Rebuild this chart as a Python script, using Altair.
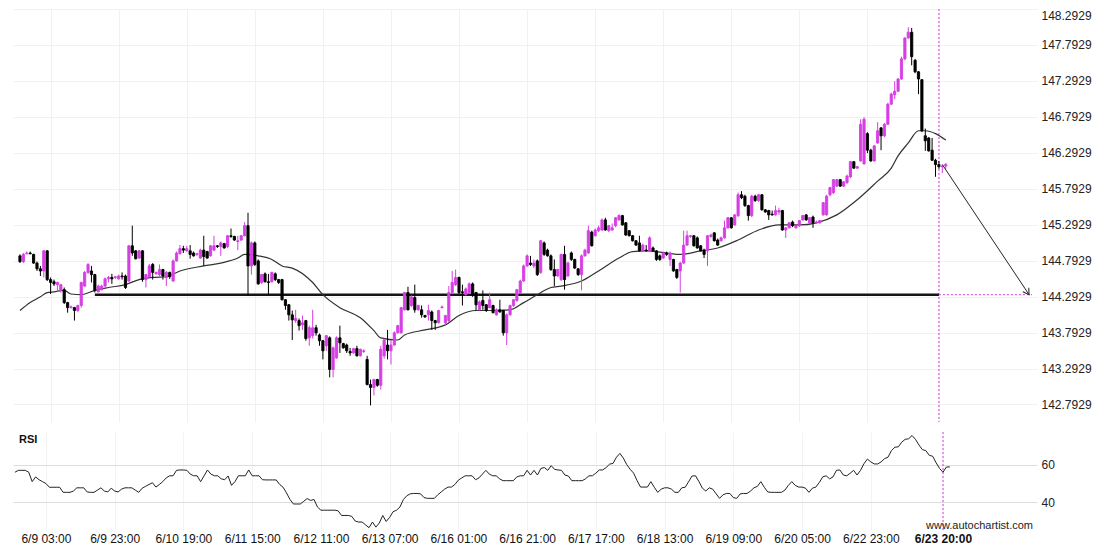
import altair as alt
import pandas as pd

# ---------------- data (hourly candles, index = bar number) ----------------
bar_open = [
144.86, 144.78, 144.89, 144.90, 144.88, 144.76, 144.68, 144.65, 144.93, 144.53,
144.50, 144.46, 144.38, 144.39, 144.21, 144.14, 144.14, 144.10, 144.17, 144.44,
144.63, 144.65, 144.60, 144.36, 144.39, 144.44, 144.54, 144.56, 144.56, 144.54,
144.58, 144.58, 144.51, 145.00, 144.93, 144.83, 144.93, 144.53, 144.57, 144.74,
144.61, 144.60, 144.67, 144.56, 144.63, 144.51, 144.79, 144.89, 144.96, 144.93,
144.93, 144.90, 144.88, 144.83, 144.94, 144.92, 144.86, 144.94, 145.00, 144.99,
145.03, 144.99, 145.14, 145.13, 145.06, 145.08, 145.14, 145.28, 144.72, 145.04,
144.79, 144.49, 144.61, 144.50, 144.50, 144.61, 144.53, 144.53, 144.25, 144.18,
144.04, 143.96, 143.96, 143.90, 143.96, 143.72, 143.75, 143.86, 143.76, 143.68,
143.61, 143.72, 143.28, 143.44, 143.72, 143.64, 143.62, 143.53, 143.51, 143.57,
143.47, 143.53, 143.42, 143.07, 143.03, 143.14, 143.06, 143.47, 143.62, 143.54,
143.62, 143.79, 143.79, 144.11, 144.35, 144.17, 144.28, 144.11, 144.11, 144.03,
144.04, 144.08, 143.96, 143.93, 144.14, 143.93, 143.96, 144.35, 144.46, 144.56,
144.36, 144.32, 144.35, 144.47, 144.35, 144.11, 144.24, 144.18, 144.14, 144.17,
144.04, 144.11, 144.10, 143.79, 144.04, 144.17, 144.24, 144.35, 144.51, 144.72,
144.76, 144.72, 144.79, 144.63, 145.04, 144.94, 144.86, 144.67, 144.58, 144.53,
144.88, 144.58, 144.90, 144.81, 144.68, 144.60, 144.86, 144.90, 145.19, 145.14,
145.21, 145.22, 145.36, 145.21, 145.22, 145.28, 145.36, 145.42, 145.32, 145.21,
145.14, 145.07, 145.04, 144.93, 144.94, 144.93, 144.97, 144.93, 144.86, 144.83,
144.90, 144.81, 144.81, 144.67, 144.65, 144.76, 145.01, 145.13, 145.14, 145.11,
145.00, 144.94, 144.93, 145.13, 145.18, 145.08, 145.07, 145.11, 145.25, 145.39,
145.29, 145.42, 145.71, 145.69, 145.56, 145.42, 145.69, 145.63, 145.71, 145.50,
145.49, 145.44, 145.43, 145.47, 145.49, 145.22, 145.25, 145.33, 145.25, 145.28,
145.36, 145.43, 145.32, 145.40, 145.32, 145.32, 145.43, 145.43, 145.71, 145.74,
145.83, 145.92, 145.83, 145.88, 145.96, 146.17, 146.08, 146.18, 146.14, 146.56,
146.33, 146.18, 146.43, 146.64, 146.53, 146.69, 146.97, 147.10, 147.15, 147.32,
147.60, 147.89, 147.97, 147.58, 147.42, 147.31, 146.53, 146.50, 146.33, 146.19,
146.13, 146.10, 146.11,
]
bar_high = [
144.88, 144.90, 144.92, 144.92, 144.89, 144.78, 144.72, 144.94, 144.94, 144.56,
144.53, 144.50, 144.47, 144.42, 144.22, 144.17, 144.15, 144.18, 144.50, 144.65,
144.76, 144.72, 144.61, 144.46, 144.46, 144.56, 144.58, 144.61, 144.58, 144.60,
144.63, 144.60, 145.01, 145.28, 144.94, 144.94, 144.94, 144.61, 144.75, 144.76,
144.64, 144.74, 144.68, 144.65, 144.64, 144.81, 144.92, 145.01, 145.00, 145.00,
145.01, 144.92, 144.90, 144.96, 145.14, 144.93, 145.01, 145.14, 145.01, 145.06,
145.04, 145.15, 145.24, 145.14, 145.14, 145.15, 145.33, 145.46, 145.06, 145.06,
144.81, 144.61, 144.63, 144.61, 144.64, 144.63, 144.54, 144.54, 144.26, 144.19,
144.10, 144.11, 143.99, 144.03, 143.97, 143.89, 144.11, 143.90, 143.78, 143.69,
143.76, 143.74, 143.60, 143.74, 143.89, 143.65, 143.64, 143.58, 143.58, 143.61,
143.57, 143.56, 143.47, 143.14, 143.15, 143.15, 143.61, 143.71, 143.83, 143.69,
143.81, 143.90, 144.15, 144.36, 144.43, 144.31, 144.46, 144.18, 144.17, 144.04,
144.18, 144.10, 143.97, 144.11, 144.17, 144.04, 144.44, 144.65, 144.67, 144.57,
144.46, 144.42, 144.49, 144.49, 144.36, 144.24, 144.38, 144.19, 144.35, 144.18,
144.13, 144.25, 144.11, 144.06, 144.18, 144.26, 144.40, 144.53, 144.74, 144.88,
144.86, 144.81, 144.81, 145.08, 145.06, 144.96, 144.88, 144.81, 144.68, 144.89,
145.00, 144.78, 144.92, 144.82, 144.69, 144.88, 144.96, 145.28, 145.21, 145.24,
145.28, 145.38, 145.39, 145.29, 145.31, 145.40, 145.44, 145.43, 145.33, 145.22,
145.15, 145.08, 145.14, 145.03, 145.01, 145.13, 144.99, 144.94, 144.88, 144.92,
144.92, 144.92, 144.82, 144.68, 144.78, 145.21, 145.21, 145.15, 145.15, 145.13,
145.01, 144.96, 145.15, 145.17, 145.19, 145.10, 145.13, 145.35, 145.40, 145.40,
145.44, 145.74, 145.76, 145.71, 145.57, 145.71, 145.71, 145.72, 145.72, 145.51,
145.50, 145.49, 145.56, 145.53, 145.50, 145.26, 145.33, 145.35, 145.29, 145.36,
145.43, 145.44, 145.40, 145.42, 145.35, 145.36, 145.61, 145.71, 145.82, 145.93,
145.93, 145.93, 145.90, 145.99, 146.18, 146.18, 146.11, 146.76, 146.79, 146.58,
146.35, 146.40, 146.72, 146.65, 146.71, 146.99, 147.13, 147.29, 147.33, 147.63,
147.90, 148.04, 148.03, 147.60, 147.43, 147.32, 146.63, 146.51, 146.50, 146.21,
146.18, 146.13, 146.15,
]
bar_low = [
144.76, 144.76, 144.88, 144.88, 144.75, 144.65, 144.58, 144.56, 144.51, 144.33,
144.44, 144.36, 144.35, 144.19, 144.07, 144.13, 143.96, 144.08, 144.14, 144.43,
144.61, 144.49, 144.35, 144.35, 144.38, 144.43, 144.49, 144.47, 144.54, 144.53,
144.53, 144.40, 144.50, 144.86, 144.81, 144.82, 144.50, 144.42, 144.56, 144.53,
144.60, 144.58, 144.53, 144.44, 144.54, 144.50, 144.78, 144.88, 144.90, 144.92,
144.82, 144.85, 144.86, 144.82, 144.72, 144.82, 144.85, 144.93, 144.97, 144.86,
144.96, 144.97, 145.11, 145.07, 144.94, 145.07, 145.13, 144.31, 144.60, 144.72,
144.46, 144.47, 144.49, 144.32, 144.49, 144.51, 144.47, 144.24, 144.11, 143.96,
143.69, 143.93, 143.82, 143.83, 143.68, 143.61, 143.71, 143.75, 143.61, 143.42,
143.54, 143.17, 143.17, 143.43, 143.51, 143.57, 143.51, 143.47, 143.50, 143.46,
143.46, 143.51, 143.06, 142.78, 142.92, 143.04, 143.00, 143.43, 143.42, 143.35,
143.61, 143.78, 143.78, 144.10, 144.10, 144.15, 144.07, 144.10, 144.00, 144.00,
143.96, 143.83, 143.83, 143.92, 144.13, 143.90, 143.94, 144.33, 144.44, 144.33,
144.17, 144.31, 144.33, 144.29, 144.10, 144.10, 144.11, 144.08, 144.13, 144.06,
144.03, 144.07, 143.75, 143.62, 144.03, 144.15, 144.22, 144.33, 144.50, 144.71,
144.72, 144.69, 144.58, 144.61, 144.86, 144.85, 144.65, 144.44, 144.57, 144.51,
144.39, 144.57, 144.79, 144.68, 144.58, 144.38, 144.85, 144.89, 144.99, 145.13,
145.19, 145.21, 145.21, 145.19, 145.21, 145.26, 145.35, 145.28, 145.14, 145.13,
145.06, 145.00, 144.92, 144.92, 144.92, 144.92, 144.92, 144.79, 144.79, 144.82,
144.86, 144.72, 144.64, 144.54, 144.35, 144.75, 145.00, 145.11, 144.99, 144.96,
144.92, 144.83, 144.72, 145.11, 145.06, 145.00, 145.06, 145.10, 145.24, 145.24,
145.28, 145.40, 145.65, 145.54, 145.35, 145.40, 145.61, 145.61, 145.49, 145.46,
145.36, 145.42, 145.42, 145.43, 145.21, 145.11, 145.24, 145.26, 145.24, 145.26,
145.35, 145.35, 145.31, 145.25, 145.31, 145.31, 145.42, 145.42, 145.69, 145.72,
145.82, 145.82, 145.82, 145.86, 145.94, 146.07, 146.07, 146.17, 146.13, 146.29,
146.17, 146.17, 146.42, 146.33, 146.51, 146.68, 146.96, 147.04, 147.14, 147.31,
147.58, 147.88, 147.51, 147.40, 147.11, 146.58, 146.32, 146.31, 146.18, 145.96,
146.07, 146.01, 146.07,
]
bar_close = [
144.78, 144.88, 144.90, 144.89, 144.76, 144.68, 144.65, 144.93, 144.53, 144.49,
144.47, 144.49, 144.46, 144.21, 144.14, 144.15, 144.10, 144.17, 144.49, 144.63,
144.74, 144.60, 144.38, 144.44, 144.44, 144.54, 144.56, 144.54, 144.57, 144.58,
144.57, 144.42, 145.00, 144.90, 144.82, 144.93, 144.53, 144.60, 144.72, 144.63,
144.63, 144.67, 144.58, 144.63, 144.57, 144.79, 144.90, 144.96, 144.94, 144.96,
144.88, 144.86, 144.89, 144.94, 144.85, 144.83, 145.00, 145.00, 144.99, 145.04,
144.97, 145.14, 145.13, 145.08, 145.07, 145.14, 145.28, 144.72, 145.04, 144.74,
144.47, 144.60, 144.50, 144.49, 144.63, 144.53, 144.49, 144.25, 144.17, 144.04,
143.97, 143.99, 143.89, 143.93, 143.71, 143.86, 143.86, 143.79, 143.68, 143.54,
143.75, 143.28, 143.58, 143.72, 143.65, 143.58, 143.54, 143.51, 143.57, 143.47,
143.56, 143.54, 143.07, 143.03, 143.14, 143.06, 143.56, 143.69, 143.54, 143.62,
143.79, 143.89, 144.14, 144.35, 144.11, 144.29, 144.11, 144.17, 144.04, 144.01,
144.10, 143.96, 143.93, 144.10, 144.15, 144.03, 144.35, 144.49, 144.56, 144.35,
144.35, 144.40, 144.47, 144.31, 144.18, 144.22, 144.17, 144.10, 144.25, 144.07,
144.11, 144.08, 143.79, 144.04, 144.17, 144.25, 144.39, 144.51, 144.72, 144.86,
144.74, 144.76, 144.60, 145.07, 144.88, 144.86, 144.67, 144.58, 144.67, 144.88,
144.53, 144.76, 144.81, 144.69, 144.60, 144.86, 144.94, 145.21, 145.00, 145.22,
145.25, 145.36, 145.22, 145.28, 145.25, 145.39, 145.42, 145.29, 145.15, 145.14,
145.07, 145.01, 144.93, 145.01, 144.93, 145.11, 144.93, 144.81, 144.81, 144.90,
144.88, 144.90, 144.65, 144.56, 144.76, 145.01, 145.14, 145.14, 145.00, 144.97,
144.93, 144.88, 145.14, 145.15, 145.07, 145.01, 145.11, 145.25, 145.39, 145.25,
145.43, 145.71, 145.67, 145.56, 145.42, 145.69, 145.63, 145.71, 145.50, 145.47,
145.43, 145.43, 145.49, 145.49, 145.22, 145.25, 145.32, 145.28, 145.28, 145.35,
145.42, 145.36, 145.39, 145.32, 145.33, 145.35, 145.60, 145.69, 145.81, 145.92,
145.92, 145.83, 145.89, 145.97, 146.17, 146.08, 146.10, 146.69, 146.76, 146.33,
146.18, 146.39, 146.60, 146.53, 146.69, 146.97, 147.11, 147.15, 147.32, 147.60,
147.89, 147.97, 147.63, 147.42, 147.32, 146.60, 146.46, 146.32, 146.19, 146.13,
146.10, 146.11, 146.13,
]

# moving average (read at selected bars)
ma_index = [0, 3, 6, 8, 10, 13, 15, 18, 22, 26, 31, 35, 39, 43, 47, 54, 59, 64, 66, 70,
            74, 77, 80, 86, 89, 94, 100, 104, 106, 111, 113, 119, 125, 129, 134, 138, 144, 148, 152, 156,
            159, 165, 170, 176, 180, 184, 190, 194, 200, 205, 211, 217, 223, 229, 234, 240, 246, 252, 256, 258,
            261, 264, 266, 269, 272]
ma_value = [144.10, 144.21, 144.29, 144.35, 144.36, 144.38, 144.33, 144.32, 144.38, 144.42,
            144.46, 144.53, 144.56, 144.57, 144.65, 144.72, 144.76, 144.83, 144.88, 144.86,
            144.81, 144.72, 144.69, 144.49, 144.32, 144.14, 144.00, 143.82, 143.72, 143.69,
            143.76, 143.83, 143.90, 144.03, 144.10, 144.10, 144.11, 144.21, 144.32, 144.42,
            144.44, 144.51, 144.65, 144.83, 144.92, 144.93, 144.90, 144.88, 144.93, 144.97,
            145.08, 145.22, 145.29, 145.29, 145.32, 145.43, 145.64, 145.90, 146.08, 146.25,
            146.43, 146.60, 146.60, 146.56, 146.47]

rsi_value = [
56, 57, 57, 57, 56, 51, 53.5, 52, 51, 50,
48, 48, 48, 48, 45.3, 45.3, 45.3, 46, 47.7, 47.7,
47.7, 45.5, 45.3, 45.3, 46.5, 47.7, 46, 45.5, 47.5, 46,
45.5, 47, 47.7, 47.7, 47.7, 46.5, 45.3, 47.5, 48.5, 49.5,
50.4, 48.1, 49.5, 51, 53, 54.1, 54.1, 57, 57.2, 57.2,
57, 55, 54.1, 54.1, 51, 54, 57.2, 55, 54.1, 54.1,
52.5, 52, 54, 49, 51, 54.1, 54.1, 54.1, 57.2, 54.1,
54.1, 54.1, 52, 51.9, 51.9, 51.9, 51.9, 49.5, 48, 45,
41.5, 39.1, 39.1, 39.1, 40.5, 42, 41, 41.5, 37.5, 35.8,
35.8, 35.8, 35.8, 35.8, 35.5, 33, 33, 33, 32.5, 30,
29.5, 29.5, 28, 26.5, 29.5, 26.8, 29, 33, 29.8, 32,
35, 35.8, 37.5, 41.5, 43.5, 44.5, 44.7, 44.7, 44.5, 42.5,
42.1, 42.1, 42.1, 44, 45.5, 47, 48.1, 48.1, 49.5, 51.8,
53, 54.1, 54.1, 54.1, 52, 53, 55, 57, 55, 54.1,
54.1, 52.5, 51.5, 51.5, 51.5, 51.5, 53.5, 54.1, 54.1, 57,
54.5, 57, 54.5, 58, 58.5, 57, 59.5, 57.5, 57.2, 57,
54.5, 54, 51.5, 51.5, 51.5, 51.5, 52.5, 54.1, 54.1, 55.5,
57.2, 57.2, 58.5, 60.3, 60.7, 64, 66, 63.5, 60, 57.5,
55.5, 51.5, 48.1, 48.1, 48.1, 51, 48, 45.3, 47, 47.7,
47.7, 47, 45.3, 45.3, 47.7, 48, 51, 54, 54.1, 51,
47.5, 46, 47.7, 47, 44.5, 42.1, 44, 44.7, 44.7, 42.5,
42.1, 44.5, 44.7, 44.7, 46, 47.7, 48.5, 51, 48, 45.5,
45.3, 45.3, 45.3, 45.3, 46.5, 49, 51, 49, 48.1, 48.1,
47.5, 45.3, 47.5, 48.1, 50.5, 53.5, 54.1, 52.5, 53.5, 57,
57.2, 54.5, 54.1, 55.5, 57, 54.5, 57, 60.5, 63, 61.5,
60.4, 60.4, 61.5, 63.2, 64, 67.5, 69.3, 69.5, 72, 73.5,
73.8, 75.5, 73.5, 70.5, 68, 67.5, 65, 64.5, 61, 58,
56, 58.8, 58.8,
]

time_tick_index = [9, 29, 49, 69, 89, 109, 129, 149, 169, 189, 209, 229, 249, 270]
time_tick_label = ["6/9 03:00", "6/9 23:00", "6/10 19:00", "6/11 15:00", "6/12 11:00",
                   "6/13 07:00", "6/16 01:00", "6/16 21:00", "6/17 17:00", "6/18 13:00",
                   "6/19 09:00", "6/20 05:00", "6/22 23:00", "6/23 20:00"]
price_ticks = [142.7929, 143.2929, 143.7929, 144.2929, 144.7929, 145.2929,
               145.7929, 146.2929, 146.7929, 147.2929, 147.7929, 148.2929]
rsi_ticks = [40, 60]

support_level = 144.32
support_from = 22
signal_bar = 270
arrow_index = [271, 296.5]
arrow_price = [146.13, 144.32]

# ---------------- styling ----------------
PINK = "#d63fe3"
X_DOM = [-0.58, 297.35]
Y_DOM = [142.5495, 148.2935]
RSI_DOM = [25.27, 77.39]
W = 1024
FONT = "Liberation Sans"

n = min(len(bar_open), len(bar_high), len(bar_low), len(bar_close))
candles = pd.DataFrame({
    "i": list(range(n)),
    "open": bar_open[:n], "high": bar_high[:n],
    "low": bar_low[:n], "close": bar_close[:n],
})
candles["dir"] = ["up" if c > o else "down" for o, c in zip(candles["open"], candles["close"])]

cscale = alt.Scale(domain=["up", "down"], range=[PINK, "#000000"])
xscale = alt.Scale(domain=X_DOM, nice=False, zero=False)
yscale = alt.Scale(domain=Y_DOM, nice=False, zero=False)

x_axis_main = alt.Axis(values=time_tick_index, labels=False, ticks=False, domain=False,
                       grid=True, gridColor="#f1f1f1", gridWidth=1, title=None)
y_axis_main = alt.Axis(orient="right", values=price_ticks, format=".4f", ticks=False,
                       domain=False, grid=True, gridColor="#f1f1f1", labelPadding=4,
                       labelFontSize=12, labelColor="#222222", labelFont=FONT, title=None,
                       labelOverlap=False,
                       labelOffset={"condition": {"test": "datum.value > 148", "value": 6}, "value": 0})


def xm(field):
    return alt.X(f"{field}:Q", scale=xscale, axis=x_axis_main)


def ym(field):
    return alt.Y(f"{field}:Q", scale=yscale, axis=y_axis_main)


base = alt.Chart(candles)
wicks = base.mark_rule(strokeWidth=1).encode(
    x=xm("i"), y=ym("low"), y2="high",
    color=alt.Color("dir:N", scale=cscale, legend=None),
)
bodies = base.mark_bar(size=2.2, strokeWidth=0.9).encode(
    x=xm("i"), y=ym("open"), y2="close",
    color=alt.Color("dir:N", scale=cscale, legend=None),
    stroke=alt.Stroke("dir:N", scale=cscale, legend=None),
)

ma_df = pd.DataFrame({"i": ma_index, "p": ma_value})
ma_line = alt.Chart(ma_df).mark_line(color="#333333", strokeWidth=1.2, interpolate="monotone").encode(
    x=xm("i"), y=ym("p"))

support_df = pd.DataFrame({"i": [support_from], "i2": [signal_bar], "p": [support_level]})
support = alt.Chart(support_df).mark_rule(color="#151515", strokeWidth=2.6).encode(
    x=xm("i"), x2="i2", y=ym("p"))

proj_df = pd.DataFrame({"i": [signal_bar], "i2": [X_DOM[1]], "p": [support_level]})
proj_level = alt.Chart(proj_df).mark_rule(color=PINK, strokeWidth=1, strokeDash=[2, 2]).encode(
    x=xm("i"), x2="i2", y=ym("p"))

sig_df = pd.DataFrame({"i": [signal_bar]})
sig_main = alt.Chart(sig_df).mark_rule(color=PINK, strokeWidth=1, strokeDash=[2, 2]).encode(x=xm("i"))

arrow_df = pd.DataFrame({"i": arrow_index, "p": arrow_price})
arrow_line = alt.Chart(arrow_df).mark_line(color="#222222", strokeWidth=1).encode(x=xm("i"), y=ym("p"))
arrow_head = alt.Chart(arrow_df.tail(1)).mark_point(
    shape="M-0.6,-1L0,0L0.6,-1", size=140, angle=326, filled=False,
    stroke="#222222", strokeWidth=1, opacity=1,
).encode(x=xm("i"), y=ym("p"))

main = alt.layer(sig_main, support, proj_level, ma_line, wicks, bodies, arrow_line, arrow_head).properties(
    width=W, height=413)

# ---------------- RSI panel ----------------
label_expr = ""
for k, v in zip(time_tick_index, time_tick_label):
    label_expr += f"datum.value == {k} ? '{v}' : "
label_expr += "''"

x_axis_rsi = alt.Axis(values=time_tick_index, labelExpr=label_expr, ticks=False, domain=False,
                      grid=True, gridColor="#f3f3f3", labelPadding=3, labelFontSize=12,
                      labelColor="#111111", labelFont=FONT, labelOverlap=False, labelFlush=False,
                      labelFontWeight={"condition": {"test": f"datum.value == {signal_bar}", "value": "bold"},
                                       "value": "normal"},
                      title=None)
y_axis_rsi = alt.Axis(orient="right", values=rsi_ticks, ticks=False, domain=False, grid=True,
                      gridColor="#dcdcdc", labelPadding=4, labelFontSize=12, labelColor="#222222",
                      labelFont=FONT, title=None)
rscale = alt.Scale(domain=RSI_DOM, nice=False, zero=False)


def xr(field):
    return alt.X(f"{field}:Q", scale=xscale, axis=x_axis_rsi)


rsi_df = pd.DataFrame({"i": list(range(len(rsi_value))), "rsi": rsi_value})
rsi_line = alt.Chart(rsi_df).mark_line(color="#222222", strokeWidth=1).encode(
    x=xr("i"), y=alt.Y("rsi:Q", scale=rscale, axis=y_axis_rsi))
sig_rsi = alt.Chart(sig_df).mark_rule(color=PINK, strokeWidth=1, strokeDash=[2, 2]).encode(x=xr("i"))
rsi_title = alt.Chart(pd.DataFrame({"t": ["RSI"]})).mark_text(
    align="left", baseline="middle", fontSize=11, fontWeight="bold", font=FONT, color="#111111"
).encode(x=alt.value(6), y=alt.value(8), text="t:N")
site = alt.Chart(pd.DataFrame({"t": ["www.autochartist.com"]})).mark_text(
    align="right", baseline="middle", fontSize=11, font=FONT, color="#222222"
).encode(x=alt.value(1020), y=alt.value(94), text="t:N")

rsi = alt.layer(sig_rsi, rsi_line, rsi_title, site).properties(width=W, height=98)

chart = alt.vconcat(main, rsi, spacing=8).properties(
    padding={"left": 4, "top": 0, "right": 0, "bottom": 0}
).configure_view(stroke=None)

chart.save("out.html", embed_options={"renderer": "svg", "actions": False})
